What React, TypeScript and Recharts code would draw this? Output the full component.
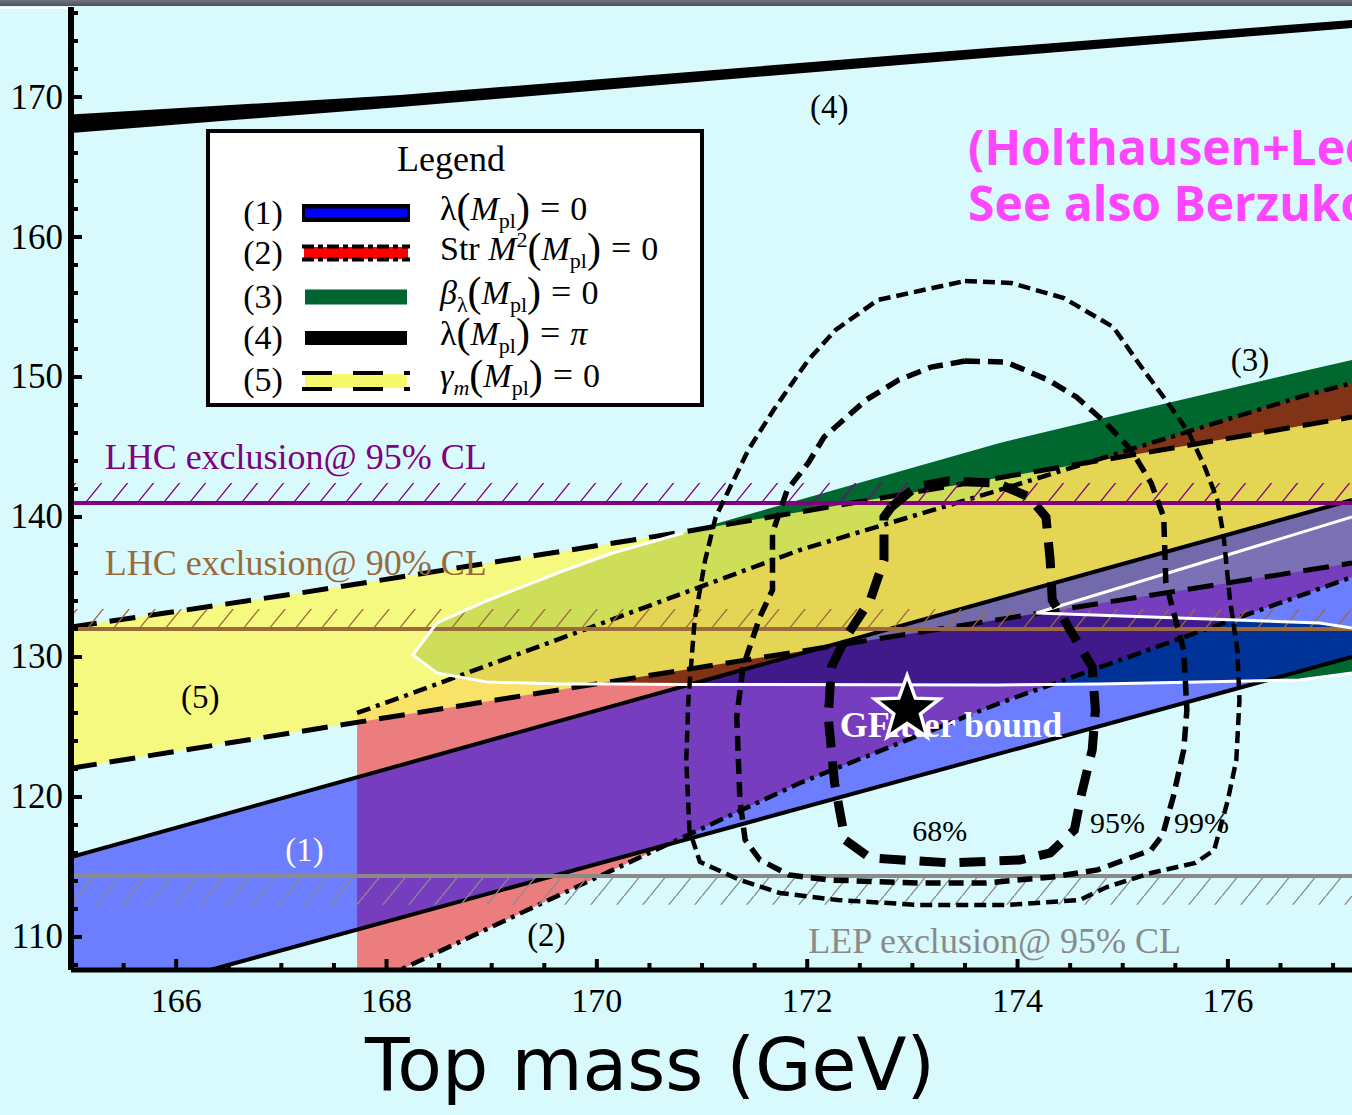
import React from 'react';
import {
  ComposedChart, Area, Line, Scatter, XAxis, YAxis,
  ReferenceLine, ReferenceArea, Legend,
} from 'recharts';

// ---------------- data ----------------
const X_DOMAIN: [number, number] = [165, 177.18];
const Y_DOMAIN: [number, number] = [107.64, 176.43];

const xMajorTicks = [166, 168, 170, 172, 174, 176];
const xAllTicks = [165.5, 166, 166.5, 167, 167.5, 168, 168.5, 169, 169.5, 170, 170.5, 171, 171.5, 172,
  172.5, 173, 173.5, 174, 174.5, 175, 175.5, 176, 176.5, 177];
const yMajorTicks = [110, 120, 130, 140, 150, 160, 170];
const yAllTicks = [108, 110, 112, 114, 116, 118, 120, 122, 124, 126, 128, 130, 132, 134, 136, 138, 140,
  142, 144, 146, 148, 150, 152, 154, 156, 158, 160, 162, 164, 166, 168, 170, 172, 174, 176];

// (4) lambda(Mpl) = pi
const lambdaPiBand = [
  { x: 165, r: [167.43, 168.75] },
  { x: 168.13, r: [169.29, 170.14] },
  { x: 172.88, r: [172.29, 173.0] },
  { x: 177.18, r: [174.93, 175.5] },
];
// (1) lambda(Mpl) = 0
const lambdaZeroBand = [
  { x: 165, r: [104.92, 115.71] },
  { x: 177.18, r: [130.0, 141.21] },
];
// (2) Str M^2(Mpl) = 0
const strBand = [
  { x: 167.72, r: [106.2, 126.0] },
  { x: 168.17, r: [107.79, 127.21] },
  { x: 170.03, r: [114.36, 132.36] },
  { x: 171.93, r: [121.0, 137.64] },
  { x: 173.83, r: [126.71, 141.93] },
  { x: 176.68, r: [134.36, 148.57] },
  { x: 177.18, r: [135.71, 149.57] },
];
// (5) gamma_m(Mpl) = 0
const gammaBand = [
  { x: 165, r: [122.05, 132.14] },
  { x: 167.18, r: [124.68, 134.57] },
  { x: 170.82, r: [129.07, 138.93] },
  { x: 175.64, r: [134.86, 145.14] },
  { x: 177.18, r: [136.71, 147.14] },
];
// (3) beta_lambda(Mpl) = 0
const betaBand = [
  { x: 168.25, r: [130.14, 130.14] },
  { x: 168.48, r: [128.86, 132.43] },
  { x: 168.95, r: [128.21, 134.0] },
  { x: 169.65, r: [128.07, 136.07] },
  { x: 170.15, r: [128.07, 137.43] },
  { x: 170.82, r: [128.04, 138.86] },
  { x: 173.83, r: [128.0, 145.29] },
  { x: 174.78, r: [128.07, 147.0] },
  { x: 176.68, r: [128.36, 150.36] },
  { x: 177.18, r: [128.86, 151.21] },
];
const betaHole = [
  { x: 174.18, r: [133.14, 133.14] },
  { x: 176.87, r: [132.43, 139.29] },
  { x: 177.18, r: [132.07, 140.0] },
];
const betaOutlineEnd = 170.82;

const contour68 = [
  [172.80, 140.71], [173.03, 142.14], [173.34, 142.57], [173.80, 142.43], [174.11, 141.43], [174.27, 140.0],
  [174.31, 136.93], [174.33, 134.07], [174.54, 131.43], [174.71, 129.29], [174.74, 126.21], [174.71, 123.36],
  [174.61, 120.29], [174.54, 117.64], [174.31, 116.0], [174.02, 115.5], [173.36, 115.29], [172.60, 115.64],
  [172.36, 116.93], [172.26, 121.0], [172.20, 125.71], [172.23, 129.29], [172.37, 131.43], [172.60, 134.07],
  [172.73, 136.93], [172.73, 140.0], [172.80, 140.71],
];
const contour95 = [
  [173.50, 151.14], [173.89, 151.07], [174.29, 149.79], [174.56, 148.57], [174.84, 146.71], [175.08, 144.79],
  [175.27, 142.43], [175.39, 140.0], [175.41, 135.29], [175.58, 130.5], [175.61, 126.21], [175.58, 123.36],
  [175.48, 120.0], [175.38, 117.29], [175.27, 116.21], [174.76, 114.79], [174.33, 114.29], [173.70, 113.86],
  [173.06, 113.86], [172.21, 114.07], [171.83, 114.43], [171.55, 115.5], [171.41, 116.93], [171.36, 119.79],
  [171.33, 125.71], [171.39, 129.29], [171.55, 132.86], [171.67, 134.79], [171.67, 138.86], [171.81, 141.93],
  [172.01, 143.86], [172.16, 145.71], [172.56, 148.36], [172.87, 149.79], [173.18, 150.71], [173.50, 151.14],
];
const contour99 = [
  [173.50, 156.86], [173.94, 156.71], [174.44, 155.64], [174.91, 153.57], [175.15, 151.0], [175.43, 148.14],
  [175.63, 146.0], [175.78, 143.57], [175.90, 141.21], [175.96, 138.57], [176.02, 134.07], [176.09, 130.5],
  [176.11, 126.93], [176.08, 122.64], [176.00, 119.79], [175.87, 116.21], [175.69, 115.29], [175.27, 114.57],
  [174.85, 113.57], [174.59, 112.64], [173.91, 112.29], [173.06, 112.29], [172.29, 112.64], [171.74, 113.14],
  [171.36, 114.07], [170.98, 115.36], [170.88, 117.64], [170.85, 122.64], [170.87, 126.93], [170.93, 132.64],
  [171.03, 136.93], [171.13, 140.0], [171.44, 144.79], [171.68, 147.64], [172.01, 151.21], [172.27, 153.36],
  [172.67, 155.5], [173.50, 156.86],
];

const bestFit = [{ x: 172.95, y: 126.25 }];

const lhc95 = 141.0;
const lhc95HatchTop = 142.43;
const lhc90 = 132.0;
const lhc90HatchTop = 133.43;
const lep95 = 114.35;
const lepHatchBottom = 112.3;

const annotations = [
  { x: 172.21, y: 169.29, text: '(4)', kind: 'num' },
  { x: 176.21, y: 151.21, text: '(3)', kind: 'num' },
  { x: 166.23, y: 127.14, text: '(5)', kind: 'num' },
  { x: 167.22, y: 116.21, text: '(1)', kind: 'numWhite' },
  { x: 169.52, y: 110.14, text: '(2)', kind: 'num' },
  { x: 173.26, y: 117.64, text: '68%', kind: 'cl' },
  { x: 174.95, y: 118.21, text: '95%', kind: 'cl' },
  { x: 175.75, y: 118.21, text: '99%', kind: 'cl' },
  { x: 165.32, y: 144.29, text: 'LHC exclusion@ 95% CL', kind: 'lhc95' },
  { x: 165.32, y: 136.71, text: 'LHC exclusion@ 90% CL', kind: 'lhc90' },
  { x: 172.01, y: 109.71, text: 'LEP exclusion@ 95% CL', kind: 'lep' },
  { x: 172.31, y: 125.14, text: 'GFitter bound', kind: 'gf' },
  { x: 173.53, y: 166.43, text: '(Holthausen+Lee+Lindner)', kind: 'ref' },
  { x: 173.53, y: 162.43, text: 'See also Berzukov+Shaposhnikov', kind: 'ref' },
];

const legendNumbers = ['(1)', '(2)', '(3)', '(4)', '(5)'];
const legendSwatches = ['blue', 'red', 'green', 'black', 'yellow'];

// ---------------- styles ----------------
const BG = '#d8fafd';
const SERIF = '"Liberation Serif", "Times New Roman", Times, serif';
const REF_FONT = '"Open Sans", Lato, "DejaVu Sans", sans-serif';

const annotationStyles: Record<string, any> = {
  num: { color: '#000', size: 33, family: SERIF, weight: 400, anchor: 'middle' },
  numWhite: { color: '#fff', size: 33, family: SERIF, weight: 400, anchor: 'middle' },
  cl: { color: '#000', size: 30, family: SERIF, weight: 400, anchor: 'middle' },
  lhc95: { color: '#800080', size: 36, family: SERIF, weight: 400, anchor: 'start' },
  lhc90: { color: '#9b6a3b', size: 36, family: SERIF, weight: 400, anchor: 'start' },
  lep: { color: '#8a8a8a', size: 36, family: SERIF, weight: 400, anchor: 'start' },
  gf: { color: '#fff', size: 36, family: SERIF, weight: 700, anchor: 'start' },
  ref: { color: '#ff46ff', size: 48, family: REF_FONT, weight: 700, anchor: 'start' },
};

const toPts = (arr: number[][]) => arr.map(([x, y]) => ({ x, y }));

const betaOutline = [
  ...betaBand.slice().reverse().map((d) => ({ x: d.x, y: d.r[0] })),
  ...betaBand.filter((d) => d.x <= betaOutlineEnd).map((d) => ({ x: d.x, y: d.r[1] })),
];
const holeOutline = [
  ...betaHole.slice().reverse().map((d) => ({ x: d.x, y: d.r[1] })),
  ...betaHole.slice(1).map((d) => ({ x: d.x, y: d.r[0] })),
];

// ---------------- renderers ----------------
const XTickBottom = (props: any) => {
  const { x, y, payload } = props;
  const major = xMajorTicks.includes(payload.value);
  return (
    <g>
      <line x1={x} x2={x} y1={y} y2={y - (major ? 11 : 7)} stroke="#000" strokeWidth={4} />
      {major && (
        <text x={x} y={y + 42} textAnchor="middle" fontFamily={SERIF} fontSize={34} fill="#000">
          {payload.value}
        </text>
      )}
    </g>
  );
};
const XTickTop = (props: any) => {
  const { x, y, payload } = props;
  const major = xMajorTicks.includes(payload.value);
  return <line x1={x} x2={x} y1={y} y2={y + (major ? 10 : 6)} stroke="#000" strokeWidth={4} />;
};
const YTickLeft = (props: any) => {
  const { x, y, payload } = props;
  const major = yMajorTicks.includes(payload.value);
  return (
    <g>
      <line x1={x} x2={x + (major ? 11 : 7)} y1={y} y2={y} stroke="#000" strokeWidth={4} />
      {major && (
        <text x={x - 8} y={y} textAnchor="end" dominantBaseline="central" fontFamily={SERIF} fontSize={35} fill="#000">
          {payload.value}
        </text>
      )}
    </g>
  );
};

const TextShape = (props: any) => {
  const { cx, cy, payload } = props;
  const st = annotationStyles[payload.kind];
  return (
    <text x={cx} y={cy} fill={st.color} fontSize={st.size} fontFamily={st.family} fontWeight={st.weight}
      textAnchor={st.anchor} dominantBaseline="central">
      {payload.text}
    </text>
  );
};

const StarShape = (props: any) => {
  const { cx, cy } = props;
  const R = 34;
  const r = 14;
  const pts: string[] = [];
  for (let i = 0; i < 10; i++) {
    const a = -Math.PI / 2 + (i * Math.PI) / 5;
    const rad = i % 2 === 0 ? R : r;
    pts.push(`${cx + rad * Math.cos(a)},${cy + rad * Math.sin(a)}`);
  }
  return <polygon points={pts.join(' ')} fill="#000" stroke="#fff" strokeWidth={3.5} />;
};

const AxisTitle = (props: any) => {
  const vb = props.viewBox || { x: 71, y: 970 };
  return (
    <text x={vb.x + 579} y={vb.y + 120} textAnchor="middle" fontFamily='"DejaVu Sans", sans-serif'
      fontSize={73} fill="#000">
      Top mass (GeV)
    </text>
  );
};

const Swatch = ({ kind }: { kind: string }) => {
  const w = 108;
  if (kind === 'blue') {
    return (
      <svg width={w} height={18}>
        <rect x={0} y={0} width={w} height={18} fill="#000" />
        <rect x={3} y={4.5} width={w - 6} height={9} fill="#0000ff" />
      </svg>
    );
  }
  if (kind === 'red') {
    return (
      <svg width={w} height={18}>
        <rect x={2} y={3} width={w - 4} height={12} fill="#ff0000" />
        <line x1={0} x2={w} y1={2.5} y2={2.5} stroke="#000" strokeWidth={4} strokeDasharray="12 4 5 4" />
        <line x1={0} x2={w} y1={15.5} y2={15.5} stroke="#000" strokeWidth={4} strokeDasharray="12 4 5 4" />
      </svg>
    );
  }
  if (kind === 'green') {
    return (
      <svg width={w} height={18}>
        <rect x={3} y={1.5} width={w - 6} height={15} fill="#006430" />
      </svg>
    );
  }
  if (kind === 'black') {
    return (
      <svg width={w} height={18}>
        <rect x={3} y={2} width={w - 6} height={14} fill="#000" />
      </svg>
    );
  }
  return (
    <svg width={w} height={20}>
      <rect x={3} y={3} width={w - 6} height={14} fill="#f8f86c" />
      <line x1={0} x2={w} y1={2} y2={2} stroke="#000" strokeWidth={4} strokeDasharray="30 21" />
      <line x1={0} x2={w} y1={18} y2={18} stroke="#000" strokeWidth={4} strokeDasharray="30 21" />
    </svg>
  );
};

const small = (top: number, italic = false) => ({
  fontSize: 22, lineHeight: 0, position: 'relative' as const, top, fontStyle: italic ? 'italic' : 'normal',
});
const Paren = ({ c }: { c: string }) => (
  <span style={{ fontSize: 42, lineHeight: 0, position: 'relative', top: 2, fontWeight: 300 }}>{c}</span>
);
const Mpl = () => (
  <>
    <Paren c="(" />
    <i>M</i>
    <span style={small(8)}>pl</span>
    <Paren c=")" />
  </>
);
const Eq = ({ rhs, italic }: { rhs: string; italic?: boolean }) => (
  <>
    <span style={{ margin: '0 10px', fontSize: 36, lineHeight: 0 }}>=</span>
    {italic ? <i>{rhs}</i> : rhs}
  </>
);

const formula = (i: number) => {
  switch (i) {
    case 0:
      return (<>λ<Mpl /><Eq rhs="0" /></>);
    case 1:
      return (<>Str <i>M</i><span style={small(-13)}>2</span><Mpl /><Eq rhs="0" /></>);
    case 2:
      return (<><i>β</i><span style={small(8)}>λ</span><Mpl /><Eq rhs="0" /></>);
    case 3:
      return (<>λ<Mpl /><Eq rhs="π" italic /></>);
    default:
      return (<><i>γ</i><span style={small(8, true)}>m</span><Mpl /><Eq rhs="0" /></>);
  }
};

const rowCenters = [80, 120, 164, 205, 247];

const LegendBox = () => (
  <div style={{
    position: 'relative', boxSizing: 'border-box', width: 498, height: 278, background: '#fff',
    border: '4px solid #000', fontFamily: SERIF, color: '#000',
  }}>
    <div style={{ position: 'absolute', left: -8, right: 0, top: 6, textAlign: 'center', fontSize: 36, lineHeight: '40px' }}>
      Legend
    </div>
    {legendNumbers.map((n, i) => (
      <div key={n} style={{ position: 'absolute', left: 0, right: 0, top: rowCenters[i] - 22, height: 44 }}>
        <div style={{ position: 'absolute', left: 28, width: 50, textAlign: 'center', fontSize: 34, lineHeight: '44px' }}>{n}</div>
        <div style={{ position: 'absolute', left: 92, top: 13, lineHeight: 0 }}>
          <Swatch kind={legendSwatches[i]} />
        </div>
        <div style={{ position: 'absolute', left: 230, top: -4, fontSize: 34, lineHeight: '44px', whiteSpace: 'nowrap' }}>
          {formula(i)}
        </div>
      </div>
    ))}
  </div>
);

export default function App() {
  const W = 1352;
  const H = 1115;
  return (
    <div style={{ position: 'absolute', left: 0, top: 0, width: W, height: H, background: BG, overflow: 'hidden' }}>
      <div style={{ position: 'absolute', left: 0, top: 0, width: W, height: 6, background: 'linear-gradient(#70747e, #4d515b)' }} />
      <div style={{ position: 'absolute', left: 0, top: 7, width: 68, height: 2, background: '#fff' }} />
      <ComposedChart width={W} height={H} margin={{ top: 7, right: 0, bottom: 0, left: 0 }}>
        <defs>
          <pattern id="hatchPurple" patternUnits="userSpaceOnUse" width={26} height={32}>
            <line x1={-2} y1={34.5} x2={28} y2={-2.5} stroke="#800080" strokeWidth={1.3} />
          </pattern>
          <pattern id="hatchBrown" patternUnits="userSpaceOnUse" width={26} height={32}>
            <line x1={-2} y1={34.5} x2={28} y2={-2.5} stroke="#9b6a3b" strokeWidth={1.3} />
          </pattern>
          <pattern id="hatchGray" patternUnits="userSpaceOnUse" width={26} height={32}>
            <line x1={-2} y1={34.5} x2={28} y2={-2.5} stroke="#8a8a8a" strokeWidth={1.3} />
          </pattern>
        </defs>

        <XAxis dataKey="x" type="number" domain={X_DOMAIN} allowDataOverflow ticks={xAllTicks} interval={0}
          height={145} tickSize={0} tickMargin={0} tickLine={false} tick={<XTickBottom />}
          axisLine={{ stroke: '#000', strokeWidth: 5 }} label={AxisTitle} />
        <XAxis xAxisId="top" orientation="top" dataKey="x" type="number" domain={X_DOMAIN} allowDataOverflow
          ticks={xAllTicks} interval={0} height={0} tickSize={0} tickMargin={0} tickLine={false}
          tick={<XTickTop />} axisLine={{ stroke: '#000', strokeWidth: 4 }} />
        <YAxis dataKey="y" type="number" domain={Y_DOMAIN} allowDataOverflow ticks={yAllTicks} interval={0}
          width={71} tickSize={0} tickMargin={0} tickLine={false} tick={<YTickLeft />}
          axisLine={{ stroke: '#000', strokeWidth: 6 }} />

        {/* filled bands */}
        <Area data={betaBand} dataKey="r" type="linear" fill="#00672f" fillOpacity={1} stroke="none" isAnimationActive={false} />
        <Area data={betaHole} dataKey="r" type="linear" fill={BG} fillOpacity={1} stroke="none" isAnimationActive={false} />
        <Area data={strBand} dataKey="r" type="linear" fill="#ff0000" fillOpacity={0.5} stroke="none" isAnimationActive={false} />
        <Area data={gammaBand} dataKey="r" type="linear" fill="rgb(251,249,99)" fillOpacity={0.82} stroke="none" isAnimationActive={false} />
        <Area data={lambdaZeroBand} dataKey="r" type="linear" fill="#0000ff" fillOpacity={0.5} stroke="none" isAnimationActive={false} />
        <Area data={lambdaPiBand} dataKey="r" type="linear" fill="#000" fillOpacity={1} stroke="none" isAnimationActive={false} />

        {/* band boundaries */}
        <Area data={lambdaZeroBand} dataKey="r" type="linear" fill="none" fillOpacity={0} stroke="#000" strokeWidth={4} isAnimationActive={false} />
        <Area data={strBand} dataKey="r" type="linear" fill="none" fillOpacity={0} stroke="#000" strokeWidth={4.5} strokeDasharray="14 6 4 6" isAnimationActive={false} />
        <Area data={gammaBand} dataKey="r" type="linear" fill="none" fillOpacity={0} stroke="#000" strokeWidth={5} strokeDasharray="26 13" isAnimationActive={false} />

        {/* exclusion hatches and lines */}
        <ReferenceArea y1={lhc95} y2={lhc95HatchTop} fill="url(#hatchPurple)" fillOpacity={1} stroke="none" zIndex={150} />
        <ReferenceArea y1={lhc90} y2={lhc90HatchTop} fill="url(#hatchBrown)" fillOpacity={1} stroke="none" zIndex={150} />
        <ReferenceArea y1={lepHatchBottom} y2={lep95} fill="url(#hatchGray)" fillOpacity={1} stroke="none" zIndex={150} />
        <ReferenceLine y={lhc95} stroke="#800080" strokeWidth={4} />
        <ReferenceLine y={lhc90} stroke="#9b6a3b" strokeWidth={4} />
        <ReferenceLine y={lep95} stroke="#8a8a8a" strokeWidth={4} />

        {/* beta band white outline */}
        <Line data={betaOutline} dataKey="y" type="linear" stroke="#fff" strokeWidth={3} dot={false} activeDot={false} isAnimationActive={false} />
        <Line data={holeOutline} dataKey="y" type="linear" stroke="#fff" strokeWidth={3} dot={false} activeDot={false} isAnimationActive={false} />

        {/* confidence contours */}
        <Line data={toPts(contour99)} dataKey="y" type="linear" stroke="#000" strokeWidth={4.5} strokeDasharray="12 6" dot={false} activeDot={false} isAnimationActive={false} />
        <Line data={toPts(contour95)} dataKey="y" type="linear" stroke="#000" strokeWidth={5.5} strokeDasharray="15 8" dot={false} activeDot={false} isAnimationActive={false} />
        <Line data={toPts(contour68)} dataKey="y" type="linear" stroke="#000" strokeWidth={9} strokeDasharray="26 14" dot={false} activeDot={false} isAnimationActive={false} />

        <Scatter data={annotations} dataKey="y" shape={TextShape} isAnimationActive={false} />
        <Scatter data={bestFit} dataKey="y" shape={StarShape} isAnimationActive={false} />

        <Legend layout="vertical" align="center" verticalAlign="middle" content={() => <LegendBox />}
          wrapperStyle={{ left: 206, top: 129, width: 498, height: 278 }} />
      </ComposedChart>
    </div>
  );
}
